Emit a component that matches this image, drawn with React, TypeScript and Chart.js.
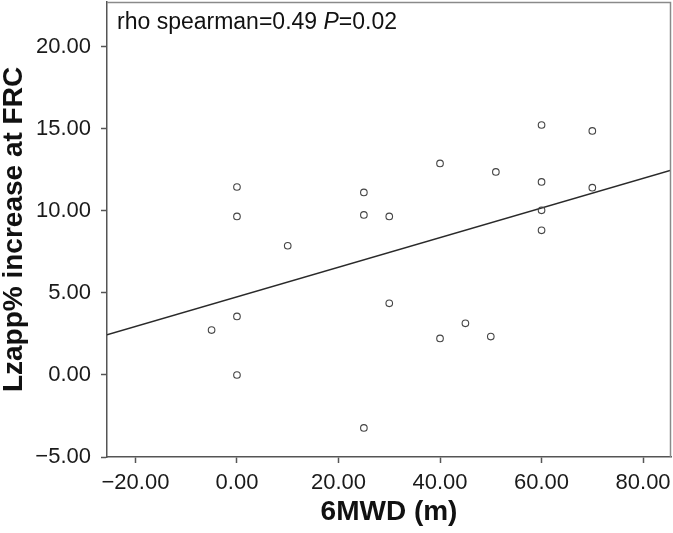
import React, { useEffect, useRef } from "react";
import { Chart, registerables } from "chart.js";

Chart.register(...registerables);

// 6MWD change (m) and Lzapp% increase at FRC, one entry per patient
const walkDistance = [-5, 0, 0, 0, 0, 10, 25, 25, 25, 30, 30, 40, 40, 45, 50, 51, 60, 60, 60, 60, 70, 70];
const lzappIncrease = [2.74, 11.46, 9.67, 3.57, 0, 7.88, 11.13, 9.76, -3.23, 9.67, 4.37, 12.9, 2.23, 3.15, 2.34, 12.38, 15.24, 11.77, 10.04, 8.82, 14.88, 11.42];

const xTickValues = [-20, 0, 20, 40, 60, 80];
const yTickValues = [-5, 0, 5, 10, 15, 20];
const xRange = [-25.6, 85.5];
const yRange = [-5, 22.74];

const xTitle = "6MWD (m)";
const yTitle = "Lzapp% increase at FRC";
const annotationParts = ["rho spearman=0.49 ", "P", "=0.02"];

const FONT = "'Liberation Sans', Arial, Helvetica, sans-serif";

function fmt(v: number): string {
  return (v < 0 ? "\u2212" : "") + Math.abs(v).toFixed(2);
}

function regression(xs: number[], ys: number[]) {
  const n = xs.length;
  const mx = xs.reduce((a, b) => a + b, 0) / n;
  const my = ys.reduce((a, b) => a + b, 0) / n;
  let sxy = 0;
  let sxx = 0;
  for (let i = 0; i < n; i++) {
    sxy += (xs[i] - mx) * (ys[i] - my);
    sxx += (xs[i] - mx) * (xs[i] - mx);
  }
  const slope = sxy / sxx;
  return { slope, intercept: my - slope * mx };
}

function zeroPadding(s: any) {
  s.paddingTop = 0;
  s.paddingBottom = 0;
  s.paddingLeft = 0;
  s.paddingRight = 0;
}

const framePlugin = {
  id: "frame",
  afterDatasetsDraw(chart: any) {
    const { ctx, chartArea } = chart;
    ctx.save();
    ctx.strokeStyle = "#8a8a8a";
    ctx.lineWidth = 1.5;
    ctx.beginPath();
    ctx.moveTo(chartArea.left, chartArea.top + 0.5);
    ctx.lineTo(chartArea.right - 0.5, chartArea.top + 0.5);
    ctx.lineTo(chartArea.right - 0.5, chartArea.bottom);
    ctx.stroke();
    ctx.restore();
  },
};

const annotationPlugin = {
  id: "annotation",
  afterDraw(chart: any) {
    const { ctx, chartArea } = chart;
    ctx.save();
    ctx.fillStyle = "#111";
    ctx.textBaseline = "alphabetic";
    ctx.textAlign = "left";
    let x = chartArea.left + 10;
    const y = chartArea.top + 27;
    annotationParts.forEach((part, i) => {
      ctx.font = (i === 1 ? "italic " : "") + "23px " + FONT;
      ctx.fillText(part, x, y);
      x += ctx.measureText(part).width;
    });
    ctx.restore();
  },
};

export default function App() {
  const canvasRef = useRef<HTMLCanvasElement | null>(null);

  useEffect(() => {
    if (!canvasRef.current) return;
    const { slope, intercept } = regression(walkDistance, lzappIncrease);
    const points = walkDistance.map((x, i) => ({ x, y: lzappIncrease[i] }));
    const fitLine = xRange.map((x) => ({ x, y: intercept + slope * x }));

    const chart = new Chart(canvasRef.current, {
      type: "scatter",
      data: {
        datasets: [
          {
            data: points,
            pointRadius: 3.3,
            pointBorderWidth: 1.1,
            borderColor: "#444",
            backgroundColor: "rgba(255,255,255,0)",
            pointHoverRadius: 3.3,
          } as any,
          {
            data: fitLine,
            showLine: true,
            pointRadius: 0,
            borderColor: "#2a2a2a",
            borderWidth: 1.5,
          } as any,
        ],
      },
      options: {
        animation: false,
        responsive: false,
        layout: { autoPadding: false, padding: { top: 2, right: 2, left: 0, bottom: 0 } },
        plugins: { legend: { display: false }, tooltip: { enabled: false } },
        scales: {
          x: {
            type: "linear",
            min: xRange[0],
            max: xRange[1],
            afterBuildTicks: (s: any) => {
              s.ticks = xTickValues.map((v) => ({ value: v }));
            },
            afterFit: (s: any) => {
              s.height = 76;
              zeroPadding(s);
            },
            grid: { drawOnChartArea: false, drawTicks: true, tickLength: 6, tickColor: "#555", tickWidth: 1.5 },
            border: { display: true, color: "#555", width: 1.5 },
            ticks: {
              font: { size: 22, family: FONT },
              color: "#1a1a1a",
              padding: 7,
              autoSkip: false,
              maxRotation: 0,
              callback: (v: any) => fmt(Number(v)),
            },
            title: {
              display: true,
              text: xTitle,
              color: "#111",
              font: { size: 28, weight: "bold", family: FONT, lineHeight: 1 },
              padding: { top: 0, bottom: 7 },
            },
          },
          y: {
            type: "linear",
            min: yRange[0],
            max: yRange[1],
            afterBuildTicks: (s: any) => {
              s.ticks = yTickValues.map((v) => ({ value: v }));
            },
            afterFit: (s: any) => {
              s.width = 107;
              zeroPadding(s);
            },
            grid: { drawOnChartArea: false, drawTicks: true, tickLength: 6, tickColor: "#555", tickWidth: 1.5 },
            border: { display: true, color: "#555", width: 1.5 },
            ticks: {
              font: { size: 22, family: FONT },
              color: "#1a1a1a",
              padding: 10,
              autoSkip: false,
              callback: (v: any) => fmt(Number(v)),
            },
            title: {
              display: true,
              text: yTitle,
              color: "#111",
              font: { size: 28, weight: "bold", family: FONT, lineHeight: 1 },
              padding: { top: 0, bottom: 0 },
            },
          },
        },
      } as any,
      plugins: [framePlugin, annotationPlugin],
    });
    return () => chart.destroy();
  }, []);

  return (
    <div style={{ position: "absolute", left: 0, top: 0, width: 673, height: 533, background: "#fff" }}>
      <canvas ref={canvasRef} width={673} height={533} style={{ display: "block" }} />
    </div>
  );
}
